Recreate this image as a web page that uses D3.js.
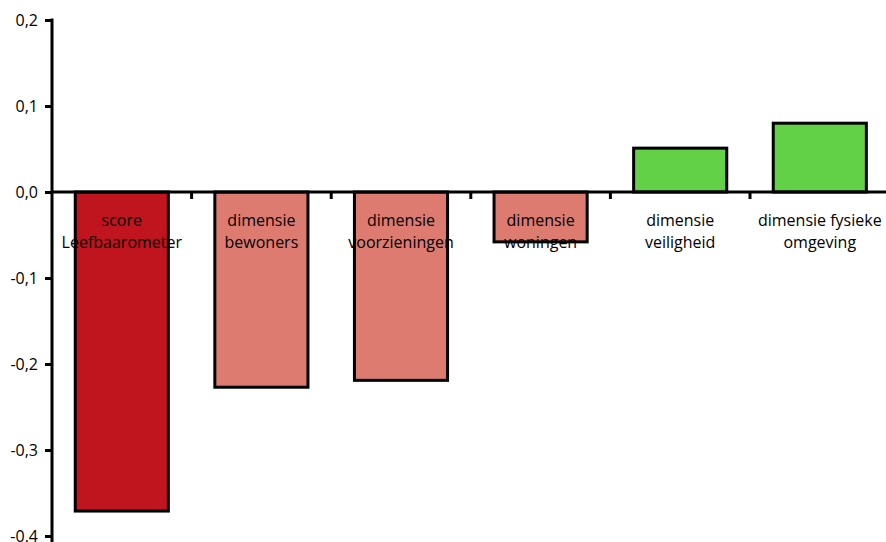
<!DOCTYPE html>
<html>
<head>
<meta charset="utf-8">
<script src="https://cdn.jsdelivr.net/npm/d3@7"></script>
<style>
  body { margin: 0; background: #fff; }
  svg { display: block; font-family: "Open Sans", sans-serif; }
</style>
</head>
<body>
<svg id="chart" width="886" height="542"></svg>
<script>
var categories = [
    ["score", "Leefbaarometer"],
    ["dimensie", "bewoners"],
    ["dimensie", "voorzieningen"],
    ["dimensie", "woningen"],
    ["dimensie", "veiligheid"],
    ["dimensie fysieke", "omgeving"]
];
var values = [-0.371, -0.227, -0.219, -0.058, 0.051, 0.080];
var barColors = ["#c0141e", "#de7b70", "#de7b70", "#de7b70", "#62d148", "#62d148"];
var yTicks = [0.2, 0.1, 0.0, -0.1, -0.2, -0.3, -0.4];
var yTickLabels = ["0,2", "0,1", "0,0", "-0,1", "-0,2", "-0,3", "-0.4"];

var svg = d3.select("#chart");
var left = 52, bandW = 139.6;

var yScale = d3.scaleLinear().domain([-0.4, 0.2]).range([536, 20]);
var xScale = d3.scaleBand()
    .domain(d3.range(categories.length))
    .range([left, left + bandW * categories.length])
    .paddingInner(0.333).paddingOuter(0.1665);

// bars
svg.selectAll("rect.bar")
    .data(values)
    .enter().append("rect").attr("class", "bar")
    .attr("x", function (d, i) { return xScale(i); })
    .attr("width", xScale.bandwidth())
    .attr("y", function (d) { return yScale(Math.max(d, 0)); })
    .attr("height", function (d) { return Math.abs(yScale(d) - yScale(0)); })
    .style("fill", function (d, i) { return barColors[i]; })
    .style("stroke", "#000")
    .style("stroke-width", 3);

// y axis
var yAxis = d3.axisLeft(yScale)
    .tickValues(yTicks)
    .tickFormat(function (d, i) { return yTickLabels[i]; })
    .tickSize(7).tickPadding(7);
var gy = svg.append("g").attr("transform", "translate(" + left + ",0)").call(yAxis);
gy.select(".domain").remove();
gy.selectAll(".tick line").style("stroke", "#000").style("stroke-width", 3);
gy.selectAll(".tick text").style("font-size", "16px").style("fill", "#000")
    .style("font-family", "Open Sans, sans-serif");
svg.append("line")
    .attr("x1", left).attr("x2", left)
    .attr("y1", yScale(0.2) - 1.5).attr("y2", 542)
    .style("stroke", "#000").style("stroke-width", 3);

// x axis line at zero
svg.append("line")
    .attr("x1", left).attr("x2", 886)
    .attr("y1", yScale(0)).attr("y2", yScale(0))
    .style("stroke", "#000").style("stroke-width", 3);

// category boundary ticks
svg.selectAll("line.xtick")
    .data(d3.range(1, categories.length + 1))
    .enter().append("line").attr("class", "xtick")
    .attr("x1", function (i) { return left + i * bandW; })
    .attr("x2", function (i) { return left + i * bandW; })
    .attr("y1", yScale(0)).attr("y2", yScale(0) + 7)
    .style("stroke", "#000").style("stroke-width", 3);

// category labels
var labels = svg.selectAll("text.cat")
    .data(categories)
    .enter().append("text").attr("class", "cat")
    .attr("text-anchor", "middle")
    .style("font-size", "16px")
    .style("fill", "#000");
labels.each(function (d, i) {
    var t = d3.select(this);
    d.forEach(function (line, j) {
        t.append("tspan")
            .attr("x", xScale(i) + xScale.bandwidth() / 2)
            .attr("y", 226 + j * 22)
            .text(line);
    });
});
</script>
</body>
</html>
